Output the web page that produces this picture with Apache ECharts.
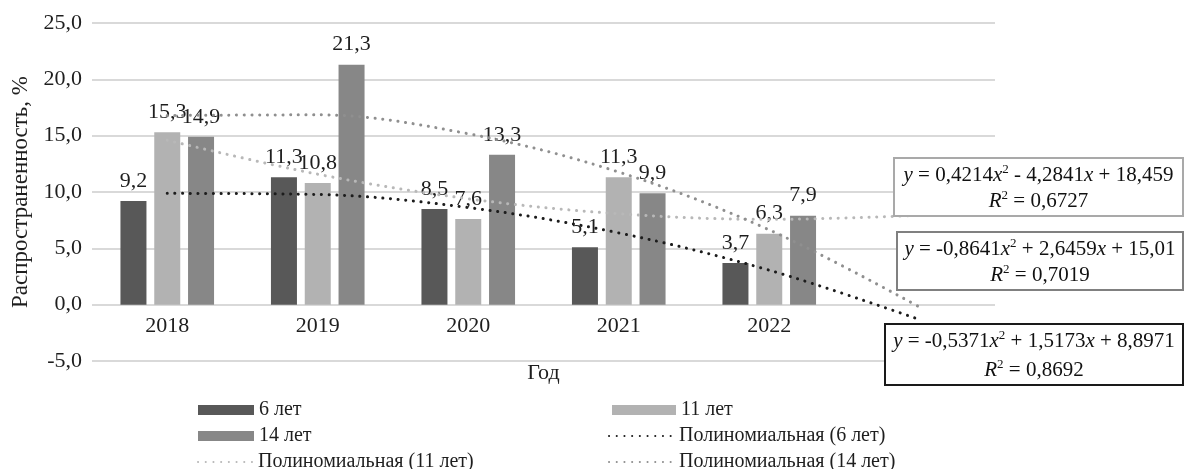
<!DOCTYPE html>
<html>
<head>
<meta charset="utf-8">
<script src="https://cdn.jsdelivr.net/npm/echarts@6/dist/echarts.min.js"></script>
<style>
  html, body { margin: 0; padding: 0; background: #fff; }
  #chart { width: 1184px; height: 469px; }
</style>
</head>
<body>
<div id="chart"></div>
<script>
// years on the axis; the last empty slot is the forecast period of the trendlines
const years = ['2018', '2019', '2020', '2021', '2022', ''];

const age6 = [9.2, 11.3, 8.5, 5.1, 3.7];
const age11 = [15.3, 10.8, 7.6, 11.3, 6.3];
const age14 = [14.9, 21.3, 13.3, 9.9, 7.9];

// trendline values read at each year (+1 forecast period)
const trend6 = [9.88, 9.78, 8.62, 6.37, 3.06, -1.33];
const trend11 = [14.60, 11.58, 9.40, 8.07, 7.57, 7.93];
const trend14 = [16.79, 16.85, 15.17, 11.77, 6.64, -0.22];

const yTicks = { min: -5, max: 25, interval: 5 };

const serif = "'Liberation Serif', 'Times New Roman', serif";
const colors = { dark: '#585858', light: '#b2b2b2', mid: '#878787' };

let myChart = echarts.init(document.getElementById('chart'));

const fmt = v => v.toFixed(1).replace('.', ',');

const gridTop = 23, gridBottom = 108, chartH = 469;
// move the category axis up onto the zero line
const plotH = chartH - gridTop - gridBottom;
const zeroOffset = -plotH * (0 - yTicks.min) / (yTicks.max - yTicks.min);

const barLabel = {
  show: true,
  position: 'top',
  distance: 9,
  fontFamily: serif,
  fontSize: 22,
  color: '#1e1e1e',
  formatter: p => fmt(p.value)
};

const dotted = (color) => ({
  color: color,
  width: 3,
  type: [0.1, 7.6],
  cap: 'round'
});

const eqRich = {
  i: { fontStyle: 'italic', fontFamily: serif, fontSize: 21, color: '#111' },
  s: { fontFamily: serif, fontSize: 13, color: '#111', verticalAlign: 'top' }
};

function eqLine(x, y, text) {
  return {
    type: 'text',
    x: x,
    y: y,
    z: 31,
    style: {
      text: text,
      align: 'center',
      verticalAlign: 'middle',
      fontFamily: serif,
      fontSize: 21,
      lineHeight: 23,
      fill: '#111',
      rich: eqRich
    }
  };
}

function eqBox(left, top, w, h, line1, line2, border) {
  return {
    type: 'group',
    left: left,
    top: top,
    z: 30,
    children: [
      {
        type: 'rect',
        z: 30,
        shape: { x: 0, y: 0, width: w, height: h },
        style: { fill: '#fff', stroke: border, lineWidth: 2 }
      },
      eqLine(w / 2, 17, line1),
      eqLine(w / 2, h - 15, line2)
    ]
  };
}

const legendText = { fontFamily: serif, fontSize: 20, color: '#1e1e1e', lineHeight: 22 };

function legendItem(left, top, width, name, isBar) {
  return {
    left: left,
    top: top,
    itemWidth: width,
    itemHeight: 10,
    textStyle: legendText,
    data: [isBar ? { name: name, icon: 'rect' } : { name: name, itemStyle: { opacity: 0 } }]
  };
}

let option = {
  animation: false,
  textStyle: { fontFamily: serif },
  grid: { left: 92, right: 189, top: gridTop, bottom: gridBottom, containLabel: false, outerBoundsMode: 'none' },
  xAxis: {
    type: 'category',
    data: years,
    offset: zeroOffset,
    name: 'Год',
    nameLocation: 'middle',
    nameGap: 58,
    nameTextStyle: { fontFamily: serif, fontSize: 22, color: '#1e1e1e' },
    axisLine: { onZero: false, show: false },
    axisTick: { show: false },
    axisLabel: { fontFamily: serif, fontSize: 22, color: '#1e1e1e', margin: 11 }
  },
  yAxis: {
    type: 'value',
    min: yTicks.min,
    max: yTicks.max,
    interval: yTicks.interval,
    name: 'Распространенность, %',
    nameLocation: 'middle',
    nameGap: 60,
    nameTextStyle: { fontFamily: serif, fontSize: 23, color: '#1e1e1e' },
    axisLine: { show: false },
    axisTick: { show: false },
    axisLabel: { fontFamily: serif, fontSize: 22, color: '#1e1e1e', margin: 10, formatter: v => fmt(v) },
    splitLine: { lineStyle: { color: '#d9d9d9', width: 2 } }
  },
  legend: [
    legendItem(193, 394, 56, '6 лет', true),
    legendItem(193, 420, 56, '14 лет', true),
    legendItem(192, 446, 55, 'Полиномиальная (11 лет)', false),
    legendItem(607, 394, 64, '11 лет', true),
    legendItem(603, 420, 65, 'Полиномиальная (6 лет)', false),
    legendItem(603, 446, 65, 'Полиномиальная (14 лет)', false)
  ],
  series: [
    {
      name: '6 лет', type: 'bar', data: age6, barWidth: 26, barGap: '30%',
      itemStyle: { color: colors.dark }, label: barLabel
    },
    {
      name: '11 лет', type: 'bar', data: age11, barWidth: 26, barGap: '30%',
      itemStyle: { color: colors.light }, label: barLabel
    },
    {
      name: '14 лет', type: 'bar', data: age14, barWidth: 26, barGap: '30%',
      itemStyle: { color: colors.mid }, label: barLabel
    },
    {
      name: 'Полиномиальная (6 лет)', type: 'line', data: trend6, smooth: 0.35,
      symbol: 'none', lineStyle: dotted('#1c1c1c'), itemStyle: { color: '#1c1c1c' }, z: 5
    },
    {
      name: 'Полиномиальная (11 лет)', type: 'line', data: trend11, smooth: 0.35,
      symbol: 'none', lineStyle: dotted('#b8b8b8'), itemStyle: { color: '#b8b8b8' }, z: 5
    },
    {
      name: 'Полиномиальная (14 лет)', type: 'line', data: trend14, smooth: 0.35,
      symbol: 'none', lineStyle: dotted('#8f8f8f'), itemStyle: { color: '#8f8f8f' }, z: 5
    }
  ],
  graphic: [
    eqBox(893, 157, 289, 58, '{i|y} = 0,4214{i|x}{s|2} - 4,2841{i|x} + 18,459', '{i|R}{s|2} = 0,6727', '#a9a9a9'),
    eqBox(896, 231, 286, 58, '{i|y} = -0,8641{i|x}{s|2} + 2,6459{i|x} + 15,01', '{i|R}{s|2} = 0,7019', '#808080'),
    eqBox(884, 323, 298, 61, '{i|y} = -0,5371{i|x}{s|2} + 1,5173{i|x} + 8,8971', '{i|R}{s|2} = 0,8692', '#1a1a1a')
  ]
};

myChart.setOption(option, true);

window.addEventListener('resize', () => {
  myChart.resize();
});
</script>
</body>
</html>
